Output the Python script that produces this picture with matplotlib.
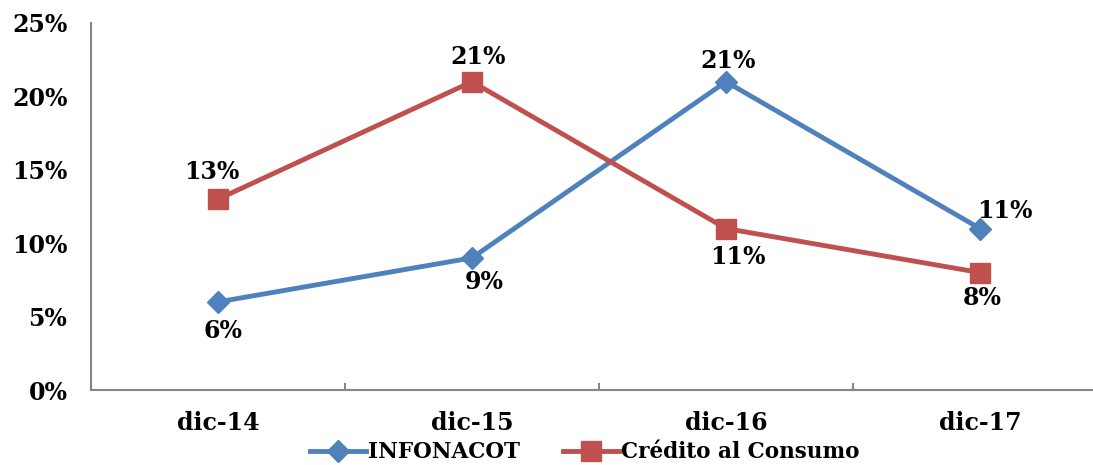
import numpy as np
import matplotlib
matplotlib.use("Agg")
import matplotlib.pyplot as plt
from matplotlib.ticker import FixedLocator, PercentFormatter

# datos
categorias = ["dic-14", "dic-15", "dic-16", "dic-17"]
infonacot = [6, 9, 21, 11]
credito_consumo = [13, 21, 11, 8]

# desplazamiento de etiquetas en pixeles (dx, dy)
desl_infonacot = [(5, -29), (12, -24), (2, 21), (25, 18)]
desl_credito = [(-6, 27), (6, 25), (12, -28), (2, -25)]

azul = "#4F81BD"
rojo = "#C0504D"
gris = "#868686"

plt.rcParams["font.family"] = "DejaVu Serif"
plt.rcParams["font.weight"] = "bold"

fig = plt.figure(figsize=(10.93, 4.65), dpi=100)
ax = fig.add_axes([91 / 1093, 75 / 465, 1016 / 1093, 367 / 465])

x = np.arange(len(categorias))
l1, = ax.plot(x, infonacot, color=azul, lw=3.5, marker="D", ms=11,
              label="INFONACOT", clip_on=False)
l2, = ax.plot(x, credito_consumo, color=rojo, lw=3.5, marker="s", ms=14,
              label="Crédito al Consumo", clip_on=False)

def etiquetas(valores, desl):
    for xi, v, (dx, dy) in zip(x, valores, desl):
        ax.annotate(f"{v}%", (xi, v), xytext=(dx * 0.72, dy * 0.72),
                    textcoords="offset points", ha="center", va="center",
                    fontsize=17, fontweight="bold")

etiquetas(infonacot, desl_infonacot)
etiquetas(credito_consumo, desl_credito)

ax.set_xlim(-0.5, 3.5)
ax.set_ylim(0, 25)
ax.set_yticks(np.arange(0, 26, 5))
ax.yaxis.set_major_formatter(PercentFormatter(decimals=0))
ax.xaxis.set_major_locator(FixedLocator(np.arange(-0.5, 4, 1)))
ax.set_xticklabels([])
ax.set_xticks(x, categorias, minor=True)
ax.tick_params(axis="x", which="major", direction="in", length=5,
               color=gris, width=1.5)
ax.tick_params(axis="x", which="minor", length=0, pad=15, labelsize=17)
ax.tick_params(axis="y", length=0, pad=17, labelsize=17)

for s in ["top", "right"]:
    ax.spines[s].set_visible(False)
for s in ["left", "bottom"]:
    ax.spines[s].set_color(gris)
    ax.spines[s].set_linewidth(1.5)

fig.legend(handles=[l1, l2], loc="center", bbox_to_anchor=(0.535, 0.027),
           ncol=2, frameon=False, fontsize=15.5, handlelength=2.6,
           handletextpad=0.1, columnspacing=2.0, borderpad=0)

fig.savefig("out.png", dpi=100)
